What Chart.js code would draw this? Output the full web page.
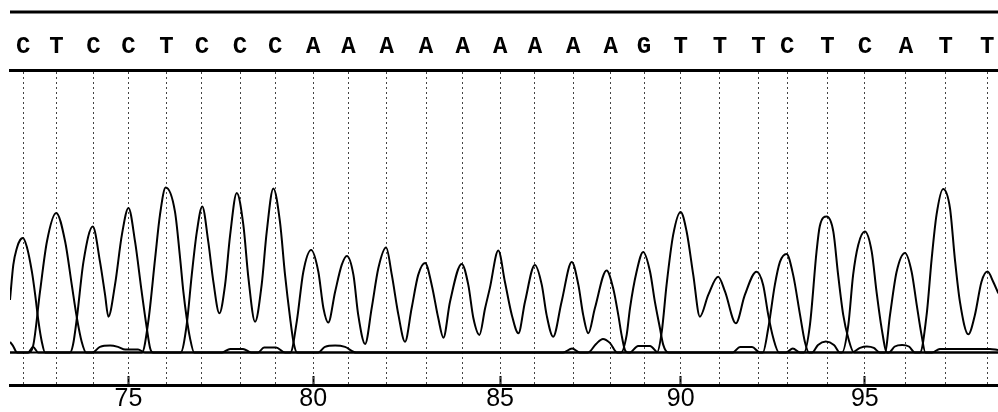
<!DOCTYPE html>
<html><head><meta charset="utf-8">
<script src="https://cdn.jsdelivr.net/npm/chart.js@4.4.1/dist/chart.umd.min.js"></script>
<style>html,body{margin:0;padding:0;background:#fff}#wrap{width:998px;height:412px;position:relative}</style>
</head><body><div id="wrap"><canvas id="c"></canvas></div>
<script>
// ---- data ----
const baseNumbers = [72,73,74,75,76,77,78,79,80,81,82,83,84,85,86,87,88,89,90,91,92,93,94,95,96,97,98];
const baseCalls   = ['C','T','C','C','T','C','C','C','A','A','A','A','A','A','A','A','A','G','T','T','T','C','T','C','A','T','T'];
// scan position of each base call
const baseScans   = [857.7,868.8,881.1,892.8,905.5,917.3,930.0,941.7,954.4,966.1,978.9,992.0,1004.2,1016.7,1028.3,1041.1,1053.6,1064.7,1076.9,1090.0,1102.8,1112.4,1125.8,1138.3,1152.0,1165.3,1179.1];
const scanRange   = [853.3, 1182.7];
const signalRange = [-162.5, 1412.5];

// [scan, signal] samples per channel
const traceA = [[853.3,0],[880.7,0],[883.3,28],[886.7,35],[889.3,28],[891.7,15],[896.0,15],[898.3,0],
 [946.8,0],[948.9,154],[951.1,404],[953.7,513],[956.1,404],[957.8,221],[959.4,150],[961.7,304],[963.9,438],[965.6,483],
 [967.8,388],[969.4,188],[971.7,43],[973.9,223],[976.1,421],[978.7,525],[980.6,388],[982.8,188],[985.0,54],[987.2,221],
 [989.4,388],[991.7,448],[993.9,338],[996.1,171],[997.8,74],[1000.0,254],[1003.9,443],[1006.1,338],[1007.8,171],[1009.8,88],
 [1011.7,221],[1013.3,323],[1016.1,510],[1018.3,354],[1020.6,188],[1022.8,96],[1025.0,254],[1028.3,438],[1030.6,338],
 [1032.2,188],[1034.4,79],[1037.2,254],[1040.6,453],[1042.8,338],[1044.4,188],[1046.1,96],[1048.3,221],[1052.2,410],
 [1054.4,321],[1056.1,188],[1057.2,88],[1058.3,13],[1059.3,0],[1112.0,0],[1114.3,20],[1116.7,0],[1134.0,0],[1136.7,23],
 [1139.0,30],[1141.3,23],[1143.3,0],[1145.0,0],[1146.7,188],[1148.9,404],[1151.7,498],[1153.9,404],[1155.6,238],[1157.2,88],
 [1158.5,0],[1160.7,0],[1163.3,18],[1180.0,18],[1182.7,13]];
const traceC = [[853.3,263],[854.4,438],[855.6,523],[856.7,563],[857.6,573],[858.9,529],[860.6,404],[861.7,288],[862.8,154],
 [863.9,54],[865.0,0],[873.3,0],[874.3,38],[875.6,173],[877.8,454],[880.9,630],[883.3,454],[885.0,288],[886.1,179],[888.3,338],
 [890.6,588],[892.8,723],[895.0,554],[897.2,304],[898.9,123],[900.0,23],[901.0,0],[910.2,0],[912.2,138],[913.9,388],[915.6,604],
 [917.4,730],[919.4,554],[921.1,354],[923.1,196],[925.0,338],[926.7,588],[928.9,798],[931.1,638],[932.8,371],[935.0,154],
 [937.2,338],[938.9,604],[941.1,820],[943.3,654],[945.0,388],[946.7,171],[947.8,54],[949.0,0],[1060.0,0],[1062.7,33],
 [1066.7,33],[1069.3,0],[1104.3,0],[1106.1,121],[1108.3,338],[1110.0,453],[1112.2,493],[1114.4,388],[1116.7,188],[1118.3,54],
 [1119.7,0],[1130.7,0],[1132.8,138],[1134.4,388],[1136.1,538],[1138.3,605],[1140.6,504],[1142.2,304],[1143.9,121],[1145.7,0],
 [1182.7,0]];
const traceG = [[853.3,53],[854.3,33],[855.7,0],[859.3,0],[861.0,28],[862.7,0],[924.0,0],[926.7,18],[931.0,18],[933.7,0],
 [936.0,0],[938.0,25],[942.0,25],[945.0,0],[956.0,0],[958.3,28],[961.7,35],[965.0,28],[968.7,0],[1037.7,0],[1040.7,20],
 [1043.3,0],[1046.0,0],[1048.7,43],[1051.0,68],[1053.3,48],[1055.7,0],[1057.0,0],[1058.9,88],[1060.0,221],[1062.2,404],
 [1064.4,503],[1066.7,404],[1068.3,254],[1070.0,121],[1071.1,38],[1072.8,0],[1094.3,0],[1096.7,28],[1100.7,28],[1103.3,0],
 [1120.7,0],[1122.7,38],[1125.3,55],[1128.0,38],[1130.0,0],[1146.3,0],[1148.3,30],[1150.7,38],[1153.0,30],[1155.0,0],[1182.7,0]];
const traceT = [[853.3,0],[859.3,0],[861.0,33],[863.3,304],[865.6,554],[868.7,698],[871.7,554],[873.9,338],[875.6,173],
 [877.2,54],[878.7,0],[897.3,0],[899.4,154],[901.7,473],[903.3,688],[905.2,825],[908.3,704],[910.0,473],[911.1,304],
 [912.2,173],[913.3,73],[914.7,0],[1069.0,0],[1070.6,104],[1072.2,338],[1074.4,588],[1076.9,703],[1078.9,604],[1081.1,388],
 [1083.3,179],[1086.1,288],[1089.4,379],[1091.7,304],[1095.3,146],[1098.3,288],[1102.2,404],[1104.4,338],[1106.1,188],
 [1107.8,71],[1109.7,0],[1118.0,0],[1120.0,138],[1122.2,504],[1123.3,633],[1125.6,680],[1127.8,604],[1129.4,388],[1131.1,188],
 [1132.8,71],[1134.7,0],[1156.7,0],[1158.9,188],[1160.6,471],[1162.2,688],[1164.4,818],[1166.7,721],[1168.3,471],[1170.0,254],
 [1172.8,91],[1175.0,188],[1177.2,354],[1179.2,405],[1181.1,354],[1182.8,296]];
const labelEvery = 5;

// ---- chart ----
const toPts = arr => arr.map(p => ({x: p[0], y: p[1]}));
const mkSet = (name, arr) => ({label: name, data: toPts(arr), borderColor: '#000', borderWidth: 2,
  pointRadius: 0, fill: false, cubicInterpolationMode: 'monotone'});

const numberedIdx = baseNumbers.map((n, i) => i).filter(i => baseNumbers[i] % labelEvery === 0);

const topRule = {
  id: 'topRule',
  afterDraw(chart) {
    const {ctx, chartArea} = chart;
    ctx.save();
    ctx.strokeStyle = '#000';
    ctx.lineWidth = 3;
    ctx.beginPath();
    ctx.moveTo(chartArea.left, 12);
    ctx.lineTo(chartArea.right, 12);
    ctx.stroke();
    ctx.restore();
  }
};

new Chart(document.getElementById('c'), {
  type: 'line',
  data: {datasets: [mkSet('A', traceA), mkSet('C', traceC), mkSet('G', traceG), mkSet('T', traceT)]},
  options: {
    responsive: true, maintainAspectRatio: false, animation: false, devicePixelRatio: 1,
    layout: {padding: {left: 10, right: 0, top: 0, bottom: 0}},
    plugins: {legend: {display: false}, tooltip: {enabled: false}},
    scales: {
      x: {
        type: 'linear', position: 'bottom', min: scanRange[0], max: scanRange[1],
        afterBuildTicks: s => { s.ticks = numberedIdx.map(i => ({value: baseScans[i]})); },
        afterFit: s => { s.height = 27; s.paddingLeft = 0; s.paddingRight = 0; },
        ticks: {autoSkip: false, maxRotation: 0, minRotation: 0, padding: 8,
          color: '#000', font: {family: '"Liberation Sans", Arial, sans-serif', size: 25},
          callback: (v, i) => String(baseNumbers[numberedIdx[i]])},
        grid: {display: true, drawOnChartArea: false, drawTicks: true, tickLength: -9, tickWidth: 2, tickColor: '#000'},
        border: {display: true, color: '#000', width: 3}
      },
      x2: {
        type: 'linear', position: 'top', min: scanRange[0], max: scanRange[1],
        afterBuildTicks: s => { s.ticks = baseScans.map(v => ({value: v})); },
        afterFit: s => { s.height = 70; s.paddingLeft = 0; s.paddingRight = 0; },
        ticks: {autoSkip: false, maxRotation: 0, minRotation: 0, padding: 9,
          color: '#000', font: {family: '"Liberation Mono", "Courier New", monospace', size: 24, weight: 'bold'},
          callback: (v, i) => baseCalls[i]},
        grid: {display: true, drawOnChartArea: true, drawTicks: false, color: '#444', lineWidth: 1},
        border: {display: true, color: '#000', width: 3, dash: [2, 3]}
      },
      y: {display: false, min: signalRange[0], max: signalRange[1]}
    }
  },
  plugins: [topRule]
});
</script></body></html>
